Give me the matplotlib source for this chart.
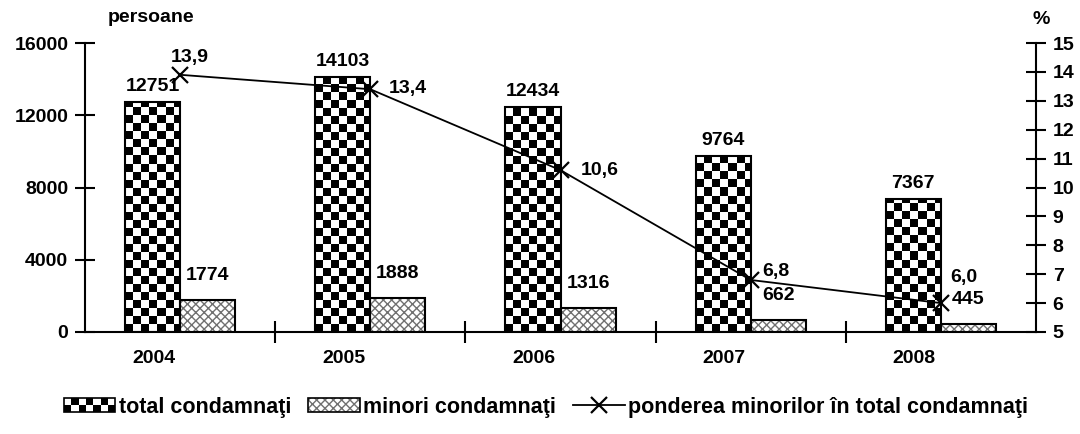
import numpy as np
import matplotlib
matplotlib.use("Agg")
import matplotlib.pyplot as plt
from matplotlib.patches import Rectangle
from matplotlib.lines import Line2D
from matplotlib.legend_handler import HandlerBase

# date
ani = ["2004", "2005", "2006", "2007", "2008"]
total = [12751, 14103, 12434, 9764, 7367]
minori = [1774, 1888, 1316, 662, 445]
pondere = [13.9, 13.4, 10.6, 6.8, 6.0]
pondere_txt = ["13,9", "13,4", "10,6", "6,8", "6,0"]

plt.rcParams["font.family"] = ["Liberation Sans", "DejaVu Sans"]
plt.rcParams["font.weight"] = "bold"
plt.rcParams["font.size"] = 14
plt.rcParams["hatch.linewidth"] = 1.0

W, H = 1080, 434
fig = plt.figure(figsize=(W / 100, H / 100), dpi=100)
ax = fig.add_axes([85 / W, 1 - 332 / H, (1036 - 85) / W, (332 - 43) / H])
ax2 = ax.twinx()

x = np.arange(len(ani))
w = 0.29
xlim = (-0.5, len(ani) - 0.5)
ylim = (0, 16000)

# marimea unei casute din tabla de sah (~8 px)
cw = (xlim[1] - xlim[0]) / 951 * 8
ch = (ylim[1] - ylim[0]) / 289 * 8

bars_t = ax.bar(x - w / 2, total, w, facecolor="none", edgecolor="black", lw=1.5, zorder=4)
for b in bars_t:
    x0, h = b.get_x(), b.get_height()
    nx = int(np.ceil(b.get_width() / cw))
    ny = int(np.ceil(h / ch))
    board = np.indices((ny, nx)).sum(axis=0) % 2
    im = ax.imshow(board, cmap="gray", extent=(x0, x0 + nx * cw, 0, ny * ch),
                   origin="lower", aspect="auto", interpolation="nearest", zorder=2)
    im.set_clip_path(b)

ax.bar(x + w / 2, minori, w, facecolor="white", edgecolor="#707070", hatch="xxxx", lw=0, zorder=3)
ax.bar(x + w / 2, minori, w, facecolor="none", edgecolor="black", lw=1.5, zorder=4)

ax.set_xlim(*xlim)
ax.set_ylim(*ylim)
ax.set_yticks([0, 4000, 8000, 12000, 16000])

for xi, v in zip(x, total):
    ax.annotate(str(v), (xi - w / 2, v), xytext=(0, 7), textcoords="offset pixels",
                ha="center", va="bottom")
for xi, v in zip(x, minori):
    ax.annotate(str(v), (xi + w / 2, v), xytext=(0, 16), textcoords="offset pixels",
                ha="center", va="bottom")

ax2.plot(x, pondere, color="black", lw=1.3, marker="x", ms=11, mew=1.6, zorder=5)
ax2.set_ylim(5, 15)
ax2.set_yticks(range(5, 16))

offs = [(10, 17, "center"), (18, 1, "left"), (20, 0, "left"), (12, 8, "left"), (23, 26, "center")]
for xi, v, t, (dx, dy, ha) in zip(x, pondere, pondere_txt, offs):
    ax2.annotate(t, (xi, v), xytext=(dx, dy), textcoords="offset pixels", ha=ha, va="center")

# axe
ax.set_xticks([0.5, 1.5, 2.5, 3.5])
ax.set_xticklabels([])
ax.set_xticks(x - 0.14, labels=ani, minor=True)
ax.tick_params(axis="x", which="major", direction="inout", length=16, width=1.5)
ax.tick_params(axis="x", which="minor", length=0, pad=13)
ax.tick_params(axis="y", direction="inout", length=14, width=1.5, pad=5)
ax2.tick_params(axis="y", direction="inout", length=14, width=1.5, pad=5)

for s in ["top", "right"]:
    ax.spines[s].set_visible(False)
for s in ["top", "left", "bottom"]:
    ax2.spines[s].set_visible(False)
ax.spines["left"].set_linewidth(1.5)
ax.spines["bottom"].set_linewidth(1.5)
ax2.spines["right"].set_linewidth(1.5)

fig.text(108 / W, 1 - 18 / H, "persoane", ha="left", va="center")
fig.text(1041 / W, 1 - 20 / H, "%", ha="center", va="center")


# legenda
class CheckerHandler(HandlerBase):
    def create_artists(self, legend, orig_handle, xdescent, ydescent, width, height, fontsize, trans):
        arts = []
        n, m = 7, 2
        for i in range(n):
            for j in range(m):
                c = "black" if (i + j) % 2 == 0 else "white"
                arts.append(Rectangle((-xdescent + i * width / n, -ydescent + j * height / m),
                                      width / n, height / m, facecolor=c, edgecolor="none", transform=trans))
        arts.append(Rectangle((-xdescent, -ydescent), width, height, fill=False,
                              edgecolor="black", lw=1.2, transform=trans))
        return arts


class HatchHandler(HandlerBase):
    def create_artists(self, legend, orig_handle, xdescent, ydescent, width, height, fontsize, trans):
        r1 = Rectangle((-xdescent, -ydescent), width, height, facecolor="white",
                       edgecolor="#707070", hatch="xxxx", lw=0, transform=trans)
        r2 = Rectangle((-xdescent, -ydescent), width, height, fill=False,
                       edgecolor="black", lw=1.2, transform=trans)
        return [r1, r2]


h_tot = Rectangle((0, 0), 1, 1)
h_min = Rectangle((0, 0), 1, 1)
h_pon = Line2D([], [], color="black", lw=1.3, marker="x", ms=11, mew=1.6)
fig.legend([h_tot, h_min, h_pon],
           ["total condamnaţi", "minori condamnaţi", "ponderea minorilor în total condamnaţi"],
           handler_map={h_tot: CheckerHandler(), h_min: HatchHandler()},
           loc="center", bbox_to_anchor=(546 / W, 1 - 407 / H), ncol=3, frameon=False,
           fontsize=15.5, handlelength=2.4, handleheight=0.6, handletextpad=0.15,
           columnspacing=0.8)

fig.savefig("out.png", dpi=100)
